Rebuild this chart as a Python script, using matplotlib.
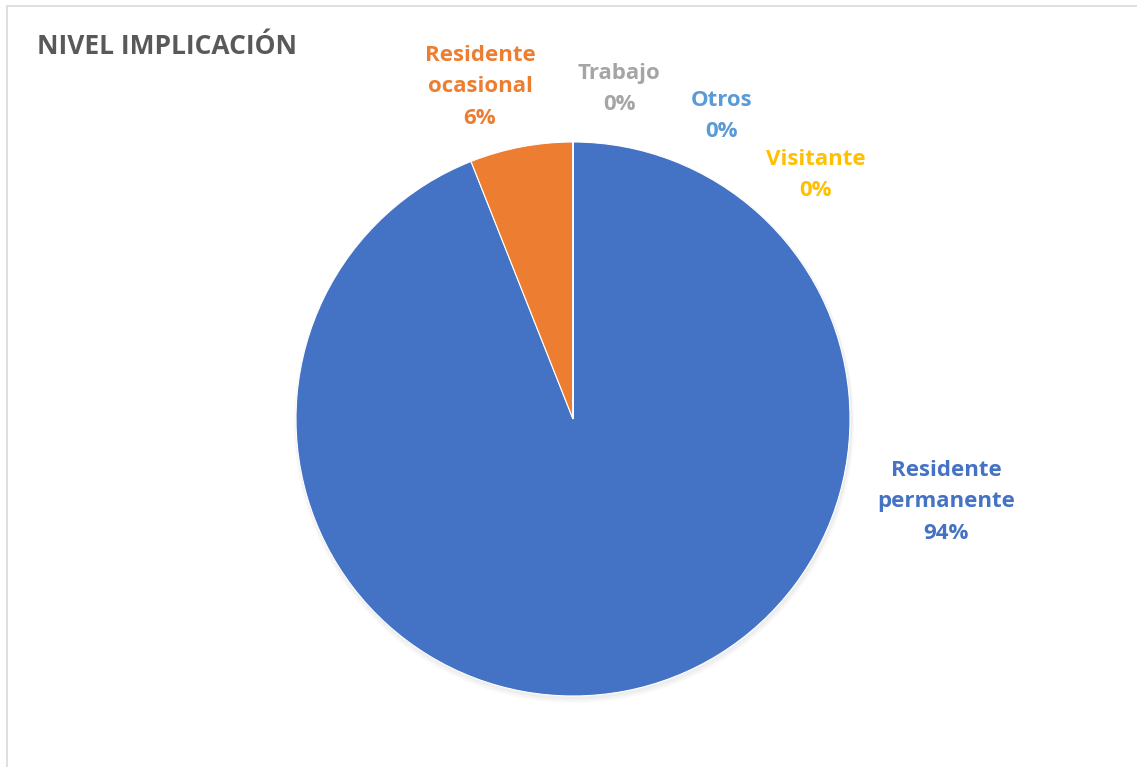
import matplotlib
matplotlib.use("Agg")
import matplotlib.pyplot as plt
import matplotlib.patches as patches

# data
categories = ["Residente permanente", "Residente ocasional", "Trabajo", "Otros", "Visitante"]
values = [94, 6, 0, 0, 0]
colors = ["#4472C4", "#ED7D31", "#A5A5A5", "#5B9BD5", "#FFC000"]
label_text = ["Residente\npermanente", "Residente\nocasional", "Trabajo", "Otros", "Visitante"]

# label centres in pixel coords (x, y of first line), layout only
label_pos = [(946, 470), (480, 55), (619, 73), (722, 100), (816, 159)]

W, H = 1137, 767
fig = plt.figure(figsize=(W / 100, H / 100), dpi=100)
ax = fig.add_axes([0, 0, 1, 1])

plt.rcParams['font.family'] = ['Open Sans', 'DejaVu Sans']

cx, cy, r = 573, H - 419, 277

# soft shadow
for i in range(3):
    ax.add_patch(patches.Circle((cx + 1, cy - 2 - i), r + 1 + i, facecolor='black',
                                alpha=0.025, edgecolor='none', zorder=1))

wedges, _ = ax.pie(values, colors=colors, startangle=90, counterclock=False,
                   center=(cx, cy), radius=r, frame=True,
                   wedgeprops=dict(linewidth=0.8, edgecolor='white', zorder=2))
ax.set_xlim(0, W)
ax.set_ylim(0, H)
ax.set_aspect('equal')
ax.axis('off')

# chart border (only top/left visible)
border = patches.Rectangle((7, -10), W, H - 6 + 10, linewidth=1.2,
                           edgecolor='#D9D9D9', facecolor='none')
ax.add_patch(border)

total = sum(values)
for txt, v, col, (lx, ly) in zip(label_text, values, colors, label_pos):
    pct = f"{v / total * 100:.0f}%"
    lines = txt.count("\n") + 2
    yc = ly + (lines - 1) * 16
    ax.text(lx, H - yc, txt + "\n" + pct, ha='center', va='center',
            color=col, fontsize=16, fontweight='bold', linespacing=1.68)

ax.text(37, H - 47, "NIVEL IMPLICACIÓN", ha='left', va='center',
        color='#595959', fontsize=19, fontweight='bold')

fig.savefig("out.png", dpi=100)
